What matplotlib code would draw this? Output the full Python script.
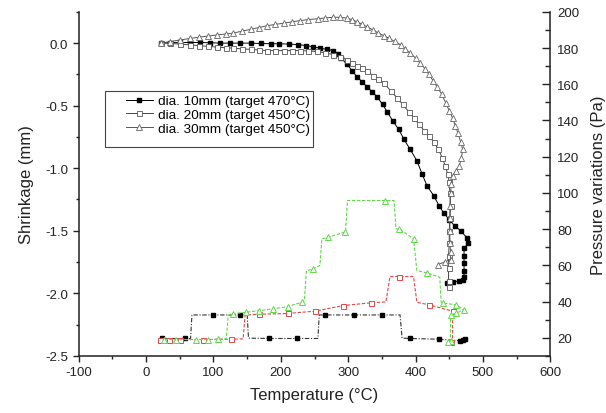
import matplotlib
matplotlib.use("Agg")
import matplotlib.pyplot as plt
from matplotlib.ticker import MultipleLocator
from matplotlib.patches import Rectangle

plt.rcParams['font.family'] = ['Liberation Sans', 'DejaVu Sans']
plt.rcParams['axes.unicode_minus'] = False

# shrinkage curves (left axis): temperature (C), shrinkage (mm)
t10 = [22, 35, 50, 65, 80, 95, 110, 125, 140, 155, 170, 185, 198, 212, 225, 238, 248, 258, 268, 278,
       285, 290, 298, 306, 313, 321, 328, 336, 343, 351, 358, 366, 375, 383, 392, 402, 410, 417, 427,
       435, 442, 450, 458, 467, 476, 478, 472, 472, 472, 472, 472, 470, 465, 455, 447]
s10 = [0.0, 0.003, 0.005, 0.005, 0.005, 0.003, 0.0, 0.0, 0.0, 0.0, -0.003, -0.005, -0.005, -0.008,
       -0.012, -0.02, -0.03, -0.04, -0.05, -0.06, -0.09, -0.12, -0.17, -0.22, -0.27, -0.31, -0.35,
       -0.39, -0.43, -0.49, -0.55, -0.62, -0.69, -0.77, -0.85, -0.94, -1.05, -1.14, -1.22, -1.30,
       -1.36, -1.41, -1.46, -1.50, -1.555, -1.60, -1.64, -1.70, -1.76, -1.82, -1.87, -1.89, -1.90,
       -1.91, -1.92]

t20 = [22, 35, 50, 65, 79, 92, 105, 118, 129, 142, 155, 167, 179, 192, 205, 217, 228, 241, 253, 266,
       278, 288, 298, 306, 313, 321, 328, 337, 345, 353, 363, 373, 381, 390, 398, 405, 413, 420, 427,
       434, 440, 444, 448, 450, 451, 452, 451, 450, 450, 449, 449, 449, 449]
s20 = [0.0, -0.002, -0.008, -0.014, -0.02, -0.026, -0.032, -0.037, -0.04, -0.046, -0.05, -0.055,
       -0.06, -0.06, -0.06, -0.06, -0.06, -0.063, -0.067, -0.078, -0.093, -0.11, -0.133, -0.155,
       -0.18, -0.20, -0.226, -0.26, -0.29, -0.32, -0.38, -0.44, -0.49, -0.55, -0.60, -0.65, -0.70,
       -0.74, -0.79, -0.85, -0.92, -0.98, -1.05, -1.11, -1.2, -1.3, -1.4, -1.5, -1.6, -1.7, -1.8,
       -1.9, -1.95]

t30 = [22, 35, 50, 65, 79, 92, 105, 118, 129, 142, 155, 167, 179, 192, 205, 217, 228, 241, 255, 266,
       278, 288, 298, 306, 313, 321, 328, 337, 345, 353, 360, 369, 378, 385, 392, 400, 407, 414, 420,
       426, 432, 439, 445, 450, 455, 459, 463, 467, 470, 468, 465, 460, 455, 453, 452, 451, 451, 451,
       451, 452, 452, 443, 433]
s30 = [0.0, 0.012, 0.025, 0.037, 0.048, 0.056, 0.065, 0.073, 0.08, 0.095, 0.11, 0.124, 0.138, 0.15,
       0.16, 0.17, 0.18, 0.188, 0.195, 0.201, 0.207, 0.206, 0.2, 0.187, 0.17, 0.15, 0.13, 0.105, 0.08,
       0.06, 0.04, 0.013, -0.014, -0.045, -0.08, -0.12, -0.16, -0.205, -0.25, -0.30, -0.35, -0.41,
       -0.48, -0.54, -0.60, -0.66, -0.72, -0.79, -0.85, -0.92, -0.98, -1.02, -1.06, -1.13, -1.2, -1.3,
       -1.4, -1.5, -1.6, -1.67, -1.73, -1.75, -1.77]

# pressure curves (right axis): temperature (C), pressure (Pa)
pt10 = [24, 57, 66, 68, 99, 140, 150, 152, 182, 224, 255, 257, 266, 308, 350, 377, 380, 392, 435,
        466, 470, 474]
p10 = [19.6, 19.6, 19.6, 32.6, 32.6, 32.6, 32.6, 19.8, 19.6, 19.6, 19.6, 32.6, 32.6, 32.6, 32.6,
       32.6, 19.8, 19.6, 19.2, 18.3, 18.6, 19.2]

pt20 = [20, 34, 51, 84, 126, 144, 147, 168, 210, 251, 293, 334, 356, 362, 376, 397, 402, 420, 455,
        455, 452]
p20 = [19.0, 19.0, 19.0, 19.0, 19.2, 19.4, 32.6, 33.0, 33.4, 34.7, 37.8, 39.3, 39.8, 53.8, 53.8,
       53.8, 39.6, 38.2, 34.7, 18.5, 17.6]

pt30 = [27, 44, 74, 92, 106, 119, 122, 129, 149, 168, 189, 210, 231, 235, 238, 248, 258, 261, 270,
        296, 299, 355, 368, 371, 376, 397, 402, 417, 436, 438, 441, 460, 472, 460, 452, 452, 448]
p30 = [19.0, 19.0, 19.0, 19.0, 19.2, 19.4, 32.6, 33.2, 34.1, 35.0, 36.0, 37.2, 39.6, 41.0, 57.0,
       58.0, 60.0, 74.6, 75.5, 78.5, 95.8, 95.8, 95.8, 80.1, 80.1, 74.6, 57.1, 55.8, 53.4, 39.6, 39.2,
       38.2, 35.6, 33.5, 32.5, 18.4, 17.8]

labels = ['dia. 10mm (target 470°C)', 'dia. 20mm (target 450°C)', 'dia. 30mm (target 450°C)']

fig = plt.figure(figsize=(6.06, 4.14), dpi=100)
ax = fig.add_axes([0.130, 0.138, 0.778, 0.831])
ax2 = ax.twinx()

# pressure (drawn first so shrinkage lies on top)
ax2.plot(pt10, p10, color='#333333', lw=0.8, ls=(0, (4, 1.5, 1, 1.5)), marker='s', ms=3.2,
         mfc='black', mec='black', markevery=[0, 1, 4, 5, 8, 9, 12, 13, 14, 17, 18, 19, 20, 21])
ax2.plot(pt20, p20, color='#e04848', lw=0.8, ls=(0, (3, 1.5)), marker='s', ms=3.6,
         mfc='white', mec='#e04848', mew=0.7, markevery=[0, 1, 2, 3, 4, 7, 8, 9, 10, 11, 14, 17, 18, 20])
ax2.plot(pt30, p30, color='#5fd94a', lw=0.8, ls=(0, (3, 1.5)), marker='^', ms=4.2,
         mfc='white', mec='#5fd94a', mew=0.7,
         markevery=[0, 1, 2, 3, 4, 7, 8, 9, 10, 11, 12, 15, 18, 19, 21, 24, 25, 27, 30, 31, 32, 33, 34, 35, 36])

ax.set_zorder(ax2.get_zorder() + 1)
ax.patch.set_visible(False)

l1, = ax.plot(t10, s10, color='black', lw=0.7, marker='s', ms=3.2, mfc='black', mec='black')
l2, = ax.plot(t20, s20, color='#444444', lw=0.7, marker='s', ms=3.6, mfc='white', mec='#555555', mew=0.6)
l3, = ax.plot(t30, s30, color='#555555', lw=0.7, marker='^', ms=4.2, mfc='white', mec='#666666', mew=0.6)

ax.set_xlim(-100, 600)
ax.set_ylim(-2.5, 0.25)
ax2.set_ylim(10, 200)

ax.xaxis.set_major_locator(MultipleLocator(100))
ax.xaxis.set_minor_locator(MultipleLocator(50))
ax.yaxis.set_major_locator(MultipleLocator(0.5))
ax.yaxis.set_minor_locator(MultipleLocator(0.25))
ax.yaxis.set_major_formatter(matplotlib.ticker.FormatStrFormatter('%.1f'))
ax2.yaxis.set_major_locator(MultipleLocator(20))
ax2.yaxis.set_minor_locator(MultipleLocator(10))

txt = '#222222'
for a in (ax, ax2):
    a.spines['top'].set_visible(False)
    for s in a.spines.values():
        s.set_linewidth(1.1)
        s.set_color('#222222')
ax.spines['right'].set_visible(False)
ax2.spines['left'].set_visible(False)
ax2.spines['bottom'].set_visible(False)

ax.tick_params(axis='both', which='major', direction='out', length=4, width=1.0,
               labelsize=9.5, colors=txt)
ax.tick_params(axis='both', which='minor', direction='out', length=2.5, width=1.0, colors=txt)
ax2.tick_params(axis='y', which='major', direction='in', length=6, width=1.0,
                labelsize=9.5, colors=txt, pad=5)
ax2.tick_params(axis='y', which='minor', direction='in', length=3.5, width=1.0, colors=txt)

ax.set_xlabel('Temperature (°C)', fontsize=12, color=txt, labelpad=6)
ax.set_ylabel('Shrinkage (mm)', fontsize=12, color=txt, labelpad=8)
ax2.set_ylabel('Pressure variations (Pa)', fontsize=12, color=txt, labelpad=8)

# legend box like the original
fig.patches.append(Rectangle((105 / 606, 1 - 148 / 414), 208 / 606, 56 / 414,
                             transform=fig.transFigure, fill=False, ec='#444444', lw=0.8))
ax.legend([l1, l2, l3], labels, loc='upper left', bbox_to_anchor=(126 / 606, 1 - 96 / 414),
          bbox_transform=fig.transFigure, frameon=False, fontsize=9.7, borderpad=0,
          borderaxespad=0, handlelength=2.0, handletextpad=0.35, labelspacing=0.1)

fig.savefig('out.png', dpi=100)
